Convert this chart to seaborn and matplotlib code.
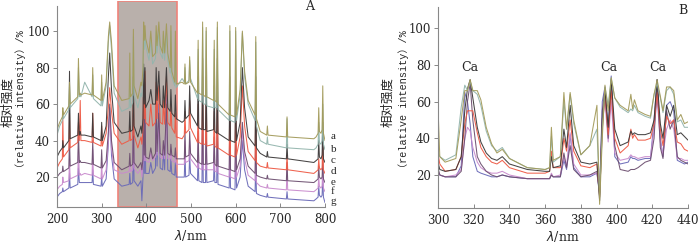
import numpy as np
import pandas as pd
import matplotlib
matplotlib.use("Agg")
import matplotlib.pyplot as plt
import seaborn as sns
from matplotlib.patches import Rectangle

sns.set_style("ticks")
plt.rcParams["font.family"] = ["DejaVu Serif", "Noto Sans CJK SC"]

series_names = ["a", "b", "c", "d", "e", "f", "g"]
series_colors = ["#a39b5b", "#93b5ad", "#3d3a3a", "#ee5a45", "#6d4f70", "#c98bcd", "#6a6ab8"]

# ---------------- Panel A: full spectra (200-800 nm) ----------------
wl_A = [200, 206, 212, 213, 214.5, 226.5, 228, 229.5, 246.5, 248,
        250, 252, 253.5, 262, 278.5, 280, 281.5, 298.5, 300, 301.5,
        310, 315, 318, 322, 328, 345, 361.5, 363, 364.5, 369.5,
        371, 372.5, 381, 388, 390, 392.5, 394, 395.5, 397, 398.5,
        406, 410, 414, 420.5, 422, 424, 428, 431, 436.5, 438,
        441, 445, 448, 453.5, 455, 457, 463.5, 465, 467, 480,
        485, 486.5, 488, 495.5, 497, 499, 514.5, 516, 517.5, 524.5,
        526, 527.5, 532.5, 534, 535.5, 550.5, 552, 553.5, 557.5, 559,
        560.5, 585.5, 587, 588.5, 598.5, 600, 602, 610, 615, 620,
        628, 643.5, 645, 646.5, 655, 669.5, 671, 672.5, 713.5, 715,
        716.5, 775, 780, 784.5, 786, 787.5, 791, 793.5, 795, 796.5,
        800]

A_a = [46, 50, 53, 58, 54, 59, 72, 60, 64, 85,
       65, 66, 65, 66, 65, 80, 65, 62, 76, 62,
       72, 97, 105, 94, 70, 62, 63, 88, 64, 66,
       101, 70, 63, 72, 70, 80, 105, 95, 103, 96,
       88, 100, 86, 88, 103, 92, 105, 92, 88, 100,
       88, 104, 88, 80, 103, 78, 72, 100, 71, 72,
       71, 82, 71, 72, 86, 72, 66, 95, 66, 65,
       105, 65, 64, 102, 64, 62, 95, 62, 61, 105,
       60, 54, 103, 54, 53, 102, 54, 68, 100, 78,
       62, 54, 97, 52, 45, 43, 48, 43, 42, 53,
       42, 41, 42, 44, 58, 45, 44, 46, 70, 44,
       40]
A_b = [43, 48, 51, 56, 52, 57, 70, 58, 63, 80,
       64, 65, 64, 72, 64, 76, 63, 59, 72, 59,
       70, 94, 103, 90, 66, 56, 58, 76, 58, 61,
       97, 65, 58, 66, 64, 75, 101, 90, 100, 92,
       84, 95, 82, 85, 100, 88, 100, 88, 85, 98,
       84, 100, 84, 77, 100, 75, 70, 95, 69, 74,
       72, 80, 71, 73, 84, 74, 63, 90, 62, 61,
       102, 60, 60, 100, 59, 58, 90, 58, 58, 102,
       57, 51, 100, 51, 50, 100, 51, 65, 99, 75,
       60, 51, 94, 48, 40, 38, 42, 38, 36, 52,
       36, 35, 36, 38, 50, 39, 38, 40, 60, 38,
       35]
A_c = [31, 34, 36, 40, 36, 40, 78, 41, 43, 55,
       43, 45, 43, 43, 42, 55, 42, 40, 50, 40,
       48, 75, 88, 68, 50, 44, 45, 56, 45, 46,
       75, 48, 42, 48, 44, 52, 82, 60, 80, 58,
       62, 68, 60, 60, 80, 62, 78, 60, 58, 70,
       58, 80, 58, 56, 68, 55, 53, 65, 52, 50,
       51, 62, 52, 54, 70, 55, 48, 75, 47, 46,
       85, 46, 46, 75, 45, 46, 70, 45, 44, 85,
       44, 40, 75, 40, 39, 70, 40, 50, 80, 58,
       42, 37, 75, 36, 33, 31, 34, 31, 30, 38,
       30, 28, 29, 30, 40, 31, 30, 32, 50, 30,
       28]
A_d = [25, 28, 30, 53, 31, 35, 55, 36, 39, 50,
       40, 62, 40, 40, 39, 55, 39, 37, 48, 37,
       44, 58, 69, 56, 44, 38, 40, 48, 40, 41,
       66, 43, 36, 42, 38, 46, 76, 52, 78, 50,
       48, 60, 48, 50, 72, 52, 70, 50, 49, 62,
       49, 75, 50, 48, 60, 47, 44, 55, 42, 41,
       43, 56, 44, 46, 62, 47, 39, 60, 39, 38,
       75, 38, 38, 70, 37, 38, 56, 37, 36, 70,
       36, 32, 65, 32, 31, 60, 32, 42, 70, 48,
       34, 29, 65, 28, 26, 25, 28, 25, 24, 32,
       24, 22, 23, 24, 30, 25, 24, 25, 40, 24,
       22]
A_e = [20, 22, 23, 26, 23, 25, 42, 26, 28, 45,
       28, 29, 28, 28, 27, 40, 27, 25, 35, 25,
       29, 45, 60, 40, 28, 24, 26, 33, 26, 27,
       55, 28, 25, 28, 24, 30, 62, 32, 60, 31,
       30, 36, 30, 33, 60, 34, 55, 33, 32, 40,
       32, 60, 33, 32, 38, 32, 31, 36, 30, 30,
       30, 45, 31, 32, 45, 33, 28, 45, 28, 27,
       60, 27, 27, 50, 27, 28, 42, 27, 26, 55,
       26, 24, 55, 24, 23, 45, 24, 30, 50, 34,
       26, 22, 50, 21, 20, 19, 21, 19, 18, 28,
       18, 17, 18, 19, 26, 20, 19, 20, 30, 19,
       17]
A_f = [13, 15, 16, 20, 17, 18, 30, 19, 21, 35,
       21, 22, 21, 22, 21, 35, 21, 19, 28, 19,
       24, 40, 55, 36, 24, 22, 23, 28, 23, 24,
       50, 25, 22, 25, 20, 27, 55, 29, 55, 29,
       28, 33, 29, 31, 55, 32, 50, 31, 30, 38,
       30, 55, 30, 30, 35, 29, 28, 32, 27, 27,
       27, 40, 28, 29, 40, 30, 25, 40, 25, 24,
       55, 24, 24, 45, 24, 24, 38, 23, 23, 50,
       22, 20, 45, 20, 19, 40, 20, 26, 45, 30,
       21, 18, 40, 17, 15, 14, 16, 14, 13, 25,
       13, 12, 13, 14, 20, 15, 14, 15, 25, 14,
       12]
A_g = [9, 11, 12, 14, 12, 14, 22, 14, 16, 25,
       17, 17, 17, 17, 17, 24, 16, 15, 20, 15,
       19, 38, 58, 32, 19, 15, 16, 22, 16, 17,
       45, 18, 15, 18, 7, 20, 70, 22, 72, 22,
       22, 28, 22, 25, 68, 26, 60, 25, 24, 35,
       24, 65, 24, 23, 30, 22, 21, 28, 20, 20,
       20, 34, 20, 21, 32, 22, 18, 32, 18, 17,
       50, 17, 17, 40, 17, 18, 30, 17, 17, 45,
       16, 14, 40, 14, 13, 35, 14, 20, 40, 24,
       15, 12, 30, 11, 10, 9, 11, 9, 8, 12,
       8, 7, 8, 9, 15, 10, 9, 10, 20, 9,
       6]

# ---------------- Panel B: 300-440 nm ----------------
wl_B = [300, 301, 304, 310, 313, 315, 316.5, 318, 319.5, 322,
        324, 327, 330, 333, 336, 340, 350, 360, 362.5, 363.5,
        364.5, 368.5, 370.5, 372, 374, 376, 380, 385, 389, 390.5,
        392, 393.5, 395.3, 397, 399, 402, 406.5, 408, 409, 410,
        412, 416, 419, 421, 422.7, 424.5, 426, 428, 430, 432,
        434, 436, 438, 440]
B_a = [57, 30, 27, 29, 50, 66, 66, 72, 66, 66, 61, 46, 37, 32, 34, 29, 24, 23, 24, 46,
       28, 30, 65, 45, 65, 50, 31, 36, 58, 4, 40, 69, 55, 73, 62, 58, 55, 64, 56, 61,
       55, 53, 52, 64, 72, 63, 55, 68, 68, 66, 50, 53, 48, 49]
B_b = [33, 30, 28, 31, 57, 69, 66, 71, 66, 64, 58, 44, 36, 33, 35, 29, 24, 23, 24, 41,
       27, 30, 60, 45, 64, 48, 31, 36, 45, 8, 45, 68, 58, 73, 62, 57, 54, 56, 55, 58,
       54, 52, 51, 64, 70, 62, 54, 66, 68, 64, 49, 50, 46, 46]
B_c = [27, 23, 22, 23, 30, 55, 67, 72, 62, 46, 38, 32, 29, 28, 30, 26, 23, 22, 22, 30,
       24, 25, 45, 35, 58, 36, 27, 26, 27, 6, 50, 66, 46, 72, 45, 36, 38, 44, 42, 43,
       42, 42, 43, 50, 72, 48, 40, 58, 52, 58, 42, 43, 41, 39]
B_d = [32, 26, 22, 23, 30, 48, 55, 55, 55, 43, 35, 30, 27, 26, 28, 24, 21, 21, 22, 33,
       24, 24, 40, 33, 50, 33, 25, 24, 26, 8, 45, 64, 42, 66, 40, 32, 36, 45, 40, 42,
       39, 39, 40, 48, 65, 45, 36, 52, 48, 50, 38, 37, 34, 33]
B_e = [24, 20, 19, 19, 22, 40, 60, 70, 50, 30, 26, 22, 20, 19, 20, 19, 18, 18, 18, 20,
       19, 19, 32, 24, 36, 23, 19, 20, 22, 10, 55, 67, 40, 70, 36, 23, 22, 23, 23, 23,
       24, 27, 28, 40, 70, 35, 29, 55, 45, 50, 30, 28, 27, 26]
B_f = [22, 20, 19, 20, 23, 40, 46, 44, 35, 27, 24, 22, 21, 21, 22, 20, 18, 18, 18, 21,
       19, 20, 30, 25, 43, 26, 20, 20, 21, 12, 50, 60, 38, 60, 32, 28, 29, 31, 30, 30,
       29, 30, 30, 45, 62, 38, 31, 45, 50, 45, 29, 29, 28, 28]
B_g = [22, 20, 19, 19, 25, 65, 60, 48, 30, 22, 21, 20, 19, 19, 20, 19, 18, 18, 18, 20,
       19, 19, 28, 23, 42, 24, 19, 19, 21, 9, 60, 68, 45, 74, 30, 26, 27, 30, 29, 29,
       28, 29, 29, 50, 72, 40, 30, 58, 60, 55, 28, 27, 26, 27]

ca_labels = ["Ca", "Ca", "Ca"]
ca_wl = [318, 395.5, 423]

highlight_range = [337, 468]

# vertical positions (data units) of the a-g labels at the right end of panel A
label_pos_y = [42.3, 35.3, 29.0, 23.0, 17.3, 12.2, 6.8]


def long_df(wl, series):
    frames = []
    for name, vals in zip(series_names, series):
        frames.append(pd.DataFrame({"wl": wl, "val": vals, "series": name}))
    return pd.concat(frames, ignore_index=True)


dfA = long_df(wl_A, [A_a, A_b, A_c, A_d, A_e, A_f, A_g])
dfB = long_df(wl_B, [B_a, B_b, B_c, B_d, B_e, B_f, B_g])
palette = dict(zip(series_names, series_colors))
draw_order = series_names[::-1]

W, H = 700, 250
fig = plt.figure(figsize=(7, 2.5), dpi=100)
axA = fig.add_axes([57 / W, 43 / H, 268 / W, 206 / H])
axB = fig.add_axes([438 / W, 42 / H, 250 / W, 201 / H])

for ax, df in ((axA, dfA), (axB, dfB)):
    for name in draw_order:
        sub = df[df["series"] == name]
        sns.lineplot(data=sub, x="wl", y="val", color=palette[name], lw=0.75,
                     estimator=None, sort=False, legend=False, ax=ax, alpha=0.95)
    ax.set_ylabel("")
    for s in ("top", "right"):
        ax.spines[s].set_visible(False)
    for s in ("left", "bottom"):
        ax.spines[s].set_color("#888888")
        ax.spines[s].set_linewidth(0.8)
    ax.tick_params(axis="y", direction="out", length=3, width=0.7, color="#888888", pad=2)
    ax.tick_params(axis="x", direction="in", length=3, width=0.7, color="#888888", pad=4)

# Panel A
axA.set_xlim(200, 800)
axA.set_ylim(3.6, 116.5)
axA.set_xticks(range(200, 801, 100))
axA.set_yticks(range(20, 101, 20))
axA.spines["left"].set_bounds(3.6, 114)
axA.add_patch(Rectangle((highlight_range[0], 3.6), highlight_range[1] - highlight_range[0], 116.5 - 3.6,
                        facecolor="#b9b0ab", edgecolor="#f0837a", lw=1.2, zorder=0))
for name, ly in zip(series_names, label_pos_y):
    axA.annotate(name, xy=(800, ly), xytext=(4, 0), textcoords="offset points",
                 fontsize=8, family="Liberation Serif", va="center", ha="left",
                 annotation_clip=False)
axA.text(0.944, 0.975, "A", transform=axA.transAxes, fontsize=9, family="DejaVu Serif",
         ha="center", va="center")

# Panel B
axB.set_xlim(300, 440)
axB.set_ylim(2, 111.6)
axB.set_xticks(range(300, 441, 20))
axB.set_yticks(range(20, 101, 20))
for lab, x in zip(ca_labels, ca_wl):
    axB.text(x, 78.5, lab, fontsize=9, family="DejaVu Serif", ha="center", va="center")
axB.text(0.98, 0.985, "B", transform=axB.transAxes, fontsize=9, family="DejaVu Serif",
         ha="center", va="center")

for ax in (axA, axB):
    for lab in ax.get_xticklabels() + ax.get_yticklabels():
        lab.set_fontsize(8.5)
        lab.set_fontfamily("DejaVu Serif")
    ax.set_xlabel(r"$\lambda$/nm", fontsize=9, family="DejaVu Serif", labelpad=2)

# y labels (two centred lines, rotated)
for x1, x2, yc in ((8, 21, 102), (388, 404, 102)):
    fig.text(x1 / W, 1 - yc / H, "相对强度", rotation=90, ha="center", va="center",
             fontsize=9, family=["Noto Sans CJK SC", "DejaVu Sans"])
    fig.text(x2 / W, 1 - yc / H, "（relative intensity）/%", rotation=90, ha="center",
             va="center", fontsize=7.3, family=["Liberation Mono", "Noto Sans CJK SC"])

fig.savefig("out.png", dpi=100)
